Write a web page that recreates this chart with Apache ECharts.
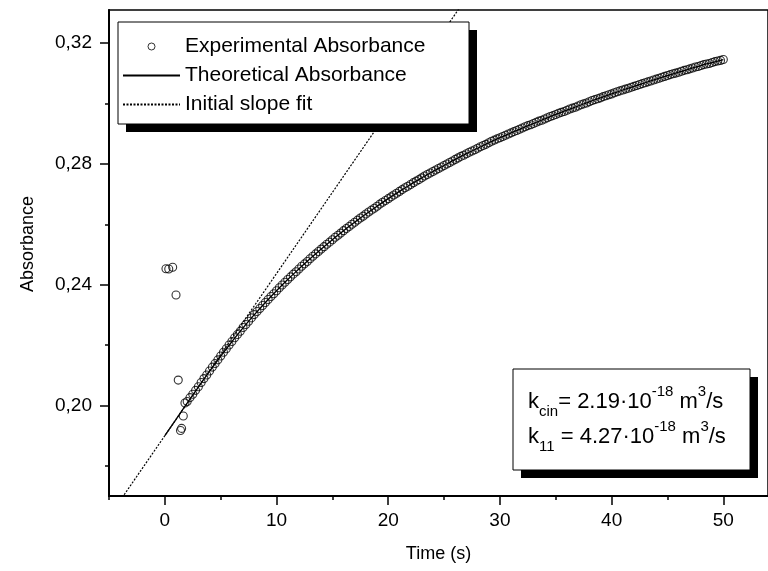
<!DOCTYPE html>
<html>
<head>
<meta charset="utf-8">
<script src="https://cdn.jsdelivr.net/npm/echarts@6.0.0/dist/echarts.min.js"></script>
<style>
    html, body { margin: 0; padding: 0; background: #fff; }
    #main { width: 768px; height: 571px; }
</style>
</head>
<body>
<div id="main"></div>
<script>
var FONT = "'Liberation Sans', Arial, sans-serif";

// ticks
var xMajorTicks = [0, 10, 20, 30, 40, 50];
var xMinorTicks = [-5, 5, 15, 25, 35, 45];
var yMajorTicks = [0.20, 0.24, 0.28, 0.32];
var yMinorTicks = [0.18, 0.22, 0.26, 0.30];

var legendNames = ['Experimental Absorbance', 'Theoretical Absorbance', 'Initial slope fit'];

// measured points [time, absorbance]
var expPoints = [
    [0.1, 0.2453], [0.35, 0.2452], [0.7, 0.2458], [1.0, 0.2366], [1.2, 0.2084], [1.4, 0.1917], [1.5, 0.1924], [1.65, 0.1965],
    [1.8, 0.2008], [2.0, 0.2013], [2.25, 0.2026], [2.5, 0.2037], [2.75, 0.2050], [3.0, 0.2062], [3.25, 0.2076], [3.5, 0.2089],
    [3.75, 0.2101], [4.0, 0.2114], [4.25, 0.2127], [4.5, 0.2139], [4.75, 0.2151], [5.0, 0.2164], [5.25, 0.2176], [5.5, 0.2188],
    [5.75, 0.2200], [6.0, 0.2212], [6.25, 0.2224], [6.5, 0.2235], [6.75, 0.2246], [7.0, 0.2258], [7.25, 0.2268], [7.5, 0.2279],
    [7.75, 0.2290], [8.0, 0.2301], [8.25, 0.2311], [8.5, 0.2321], [8.75, 0.2331], [9.0, 0.2341], [9.25, 0.2351], [9.5, 0.2361],
    [9.75, 0.2370], [10.0, 0.2380], [10.25, 0.2390], [10.5, 0.2399], [10.75, 0.2408], [11.0, 0.2417], [11.25, 0.2426], [11.5, 0.2435],
    [11.75, 0.2443], [12.0, 0.2452], [12.25, 0.2461], [12.5, 0.2469], [12.75, 0.2477], [13.0, 0.2486], [13.25, 0.2494], [13.5, 0.2502],
    [13.75, 0.2510], [14.0, 0.2518], [14.25, 0.2526], [14.5, 0.2534], [14.75, 0.2541], [15.0, 0.2549], [15.25, 0.2557], [15.5, 0.2564],
    [15.75, 0.2571], [16.0, 0.2579], [16.25, 0.2586], [16.5, 0.2593], [16.75, 0.2600], [17.0, 0.2607], [17.25, 0.2614], [17.5, 0.2621],
    [17.75, 0.2627], [18.0, 0.2634], [18.25, 0.2641], [18.5, 0.2647], [18.75, 0.2653], [19.0, 0.2660], [19.25, 0.2667], [19.5, 0.2673],
    [19.75, 0.2679], [20.0, 0.2685], [20.25, 0.2691], [20.5, 0.2697], [20.75, 0.2703], [21.0, 0.2709], [21.25, 0.2715], [21.5, 0.2721],
    [21.75, 0.2726], [22.0, 0.2732], [22.25, 0.2738], [22.5, 0.2743], [22.75, 0.2748], [23.0, 0.2754], [23.25, 0.2760], [23.5, 0.2765],
    [23.75, 0.2770], [24.0, 0.2775], [24.25, 0.2780], [24.5, 0.2785], [24.75, 0.2790], [25.0, 0.2795], [25.25, 0.2800], [25.5, 0.2805],
    [25.75, 0.2810], [26.0, 0.2815], [26.25, 0.2820], [26.5, 0.2825], [26.75, 0.2829], [27.0, 0.2834], [27.25, 0.2839], [27.5, 0.2843],
    [27.75, 0.2847], [28.0, 0.2852], [28.25, 0.2857], [28.5, 0.2861], [28.75, 0.2865], [29.0, 0.2870], [29.25, 0.2875], [29.5, 0.2879],
    [29.75, 0.2883], [30.0, 0.2887], [30.25, 0.2891], [30.5, 0.2895], [30.75, 0.2899], [31.0, 0.2903], [31.25, 0.2907], [31.5, 0.2911],
    [31.75, 0.2915], [32.0, 0.2919], [32.25, 0.2923], [32.5, 0.2927], [32.75, 0.2930], [33.0, 0.2934], [33.25, 0.2938], [33.5, 0.2942],
    [33.75, 0.2945], [34.0, 0.2949], [34.25, 0.2953], [34.5, 0.2957], [34.75, 0.2960], [35.0, 0.2964], [35.25, 0.2968], [35.5, 0.2971],
    [35.75, 0.2974], [36.0, 0.2978], [36.25, 0.2982], [36.5, 0.2985], [36.75, 0.2988], [37.0, 0.2992], [37.25, 0.2996], [37.5, 0.2999],
    [37.75, 0.3002], [38.0, 0.3006], [38.25, 0.3010], [38.5, 0.3013], [38.75, 0.3016], [39.0, 0.3019], [39.25, 0.3023], [39.5, 0.3026],
    [39.75, 0.3029], [40.0, 0.3032], [40.25, 0.3036], [40.5, 0.3039], [40.75, 0.3042], [41.0, 0.3045], [41.25, 0.3048], [41.5, 0.3051],
    [41.75, 0.3054], [42.0, 0.3057], [42.25, 0.3060], [42.5, 0.3063], [42.75, 0.3066], [43.0, 0.3069], [43.25, 0.3072], [43.5, 0.3075],
    [43.75, 0.3078], [44.0, 0.3081], [44.25, 0.3084], [44.5, 0.3087], [44.75, 0.3090], [45.0, 0.3093], [45.25, 0.3096], [45.5, 0.3099],
    [45.75, 0.3101], [46.0, 0.3104], [46.25, 0.3107], [46.5, 0.3110], [46.75, 0.3112], [47.0, 0.3115], [47.25, 0.3118], [47.5, 0.3121],
    [47.75, 0.3123], [48.0, 0.3126], [48.25, 0.3129], [48.5, 0.3131], [48.75, 0.3133], [49.0, 0.3136], [49.25, 0.3139], [49.5, 0.3141],
    [49.75, 0.3143], [50.0, 0.3146]
];

// theoretical curve
var theoryTime = [0, 1, 2, 3, 4, 5, 6, 7, 8, 9, 10, 11, 12, 13, 14, 15, 16, 17, 18, 19, 20, 21, 22, 23, 24, 25,
    26, 27, 28, 29, 30, 31, 32, 33, 34, 35, 36, 37, 38, 39, 40, 41, 42, 43, 44, 45, 46, 47, 48, 49, 50];
var theoryAbs = [0.1900, 0.1954, 0.2008, 0.2061, 0.2113, 0.2163, 0.2211, 0.2257, 0.2300, 0.2341, 0.2380,
    0.2417, 0.2452, 0.2486, 0.2518, 0.2549, 0.2579, 0.2607, 0.2634, 0.2660, 0.2685,
    0.2709, 0.2732, 0.2754, 0.2775, 0.2795, 0.2815, 0.2834, 0.2852, 0.2870, 0.2887,
    0.2903, 0.2919, 0.2934, 0.2949, 0.2964, 0.2978, 0.2992, 0.3006, 0.3019, 0.3032,
    0.3045, 0.3057, 0.3069, 0.3081, 0.3093, 0.3104, 0.3115, 0.3126, 0.3136, 0.3146];

// initial slope line end points
var slopeTime = [-4, 28];
var slopeAbs = [0.1685, 0.3404];

function zip(a, b) {
    var r = [];
    for (var i = 0; i < a.length; i++) {
        r.push([a[i], b[i]]);
    }
    return r;
}

var axisColor = '#000';

// boxes with a hard black drop shadow (legend and annotation)
function shadowBox(x, y, w, h, z) {
    return [{
        type: 'rect',
        shape: { x: x + 8, y: y + 8, width: w, height: h },
        style: { fill: '#000' },
        silent: true,
        z: z
    }, {
        type: 'rect',
        shape: { x: x, y: y, width: w, height: h },
        style: { fill: '#fff', stroke: '#000', lineWidth: 1 },
        silent: true,
        z: z + 1
    }];
}

var aoGraphic = []
    .concat(shadowBox(118, 22, 351, 102, 10))
    .concat(shadowBox(513, 369, 237, 101, 10));

aoGraphic.push({
    type: 'text',
    style: {
        x: 528,
        y: 384,
        text: '{k|k}{sub|cin}{k|= 2.19·10}{sup|-18}{k| m}{sup|3}{k|/s}\n' +
              '{k|k}{sub|11}{k| = 4.27·10}{sup|-18}{k| m}{sup|3}{k|/s}',
        fill: '#000',
        rich: {
            k: { fontSize: 22, lineHeight: 35, fontFamily: FONT, fill: '#000' },
            sub: { fontSize: 15, lineHeight: 20, verticalAlign: 'bottom', fontFamily: FONT, fill: '#000' },
            sup: { fontSize: 15, lineHeight: 20, verticalAlign: 'top', fontFamily: FONT, fill: '#000' }
        }
    },
    z: 12
});

var oChart = echarts.init(document.getElementById('main'));

var oOpt = {
    animation: false,
    backgroundColor: '#fff',
    grid: {
        left: 109,
        top: 10,
        right: -2,
        bottom: 75,
        show: true,
        borderColor: axisColor,
        borderWidth: 1.5,
        backgroundColor: 'transparent'
    },
    legend: {
        orient: 'vertical',
        left: 118,
        top: 22,
        z: 20,
        itemWidth: 57,
        itemHeight: 7,
        itemGap: 8,
        padding: [14, 42, 10, 4],
        selectedMode: false,
        itemStyle: { borderWidth: 1 },
        textStyle: { fontSize: 21, color: '#000', fontFamily: FONT },
        data: [
            { name: legendNames[0] },
            { name: legendNames[1], itemStyle: { opacity: 0 } },
            { name: legendNames[2], itemStyle: { opacity: 0 } }
        ]
    },
    xAxis: [{
        type: 'value',
        min: -5,
        max: 54,
        position: 'bottom',
        name: 'Time (s)',
        nameLocation: 'middle',
        nameGap: 49,
        nameTextStyle: { fontSize: 18, color: '#000', fontFamily: FONT },
        axisLine: { show: true, onZero: false, lineStyle: { color: axisColor, width: 2 } },
        axisTick: { show: true, inside: false, length: 9, customValues: xMajorTicks, lineStyle: { color: axisColor, width: 1.5 } },
        axisLabel: { customValues: xMajorTicks, margin: 15, fontSize: 19, color: '#000', fontFamily: FONT },
        splitLine: { show: false }
    }, {
        // minor ticks
        type: 'value',
        min: -5,
        max: 54,
        position: 'bottom',
        axisLine: { show: false, onZero: false },
        axisTick: { show: true, inside: false, length: 4, customValues: xMinorTicks, lineStyle: { color: axisColor, width: 1.5 } },
        axisLabel: { show: false },
        splitLine: { show: false }
    }],
    yAxis: [{
        type: 'value',
        min: 0.17,
        max: 0.331,
        position: 'left',
        name: 'Absorbance',
        nameLocation: 'middle',
        nameGap: 72,
        nameTextStyle: { fontSize: 18, color: '#000', fontFamily: FONT, padding: [0, 0, 0, 18] },
        axisLine: { show: true, onZero: false, lineStyle: { color: axisColor, width: 2 } },
        axisTick: { show: true, inside: false, length: 9, customValues: yMajorTicks, lineStyle: { color: axisColor, width: 1.5 } },
        axisLabel: {
            customValues: yMajorTicks,
            margin: 17,
            fontSize: 19,
            color: '#000',
            fontFamily: FONT,
            formatter: function (v) { return v.toFixed(2).replace('.', ','); }
        },
        splitLine: { show: false }
    }, {
        // minor ticks
        type: 'value',
        min: 0.17,
        max: 0.331,
        position: 'left',
        axisLine: { show: false, onZero: false },
        axisTick: { show: true, inside: false, length: 4, customValues: yMinorTicks, lineStyle: { color: axisColor, width: 1.5 } },
        axisLabel: { show: false },
        splitLine: { show: false }
    }],
    series: [{
        name: 'Theoretical Absorbance',
        type: 'line',
        data: zip(theoryTime, theoryAbs),
        symbol: 'none',
        smooth: true,
        silent: true,
        z: 2,
        itemStyle: { color: '#000' },
        lineStyle: { color: '#000', width: 1.3 }
    }, {
        name: 'Initial slope fit',
        type: 'line',
        data: zip(slopeTime, slopeAbs),
        symbol: 'none',
        silent: true,
        z: 2,
        itemStyle: { color: '#000' },
        lineStyle: { color: '#000', width: 1.2, type: [2, 1.5] }
    }, {
        name: 'Experimental Absorbance',
        type: 'scatter',
        data: expPoints,
        symbol: 'circle',
        symbolSize: 8,
        silent: true,
        z: 3,
        itemStyle: { color: 'rgba(0,0,0,0)', borderColor: '#000', borderWidth: 1.1 }
    }],
    graphic: aoGraphic
};

oChart.setOption(oOpt);
</script>
</body>
</html>
